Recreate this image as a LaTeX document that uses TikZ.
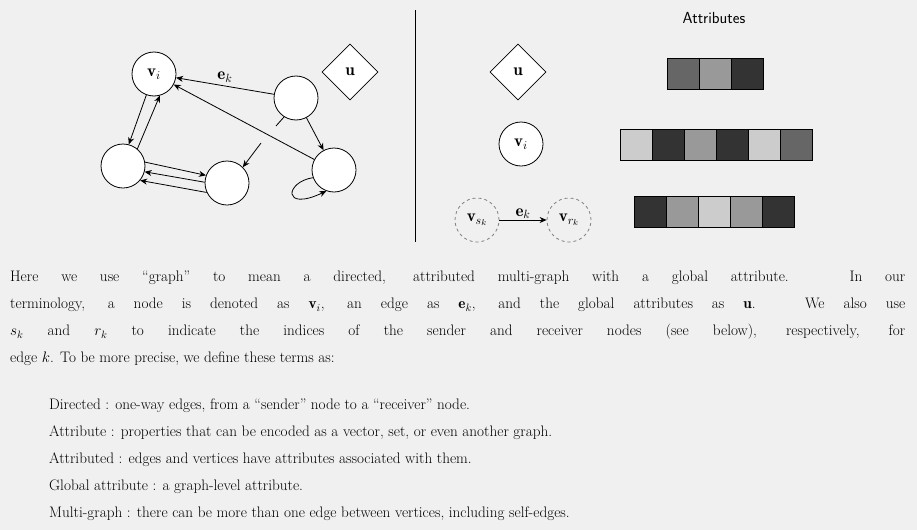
\RequirePackage{fix-cm}
\documentclass[tikz,border=0pt]{standalone}
\usepackage{amsmath,amssymb}
\usepackage{fontspec}
\usepackage{tikz}
\usetikzlibrary{arrows.meta,positioning,shapes.geometric}

\begin{document}
\begin{tikzpicture}[x=1pt,y=-1pt,
  vert/.style={circle, draw, thick, fill=white, minimum size=44pt, inner sep=0pt, font=\fontsize{17}{17}\selectfont},
  glob/.style={diamond, draw, thick, fill=white, minimum size=56pt, inner sep=0pt, font=\fontsize{17}{17}\selectfont},
  ghost/.style={circle, draw=gray, dashed, thick, minimum size=44pt, inner sep=0pt, font=\fontsize{17}{17}\selectfont},
  arr/.style={-{Stealth[length=7pt,width=6pt]}, thick},
  cell/.style={draw, thick, minimum width=32pt, minimum height=31pt, inner sep=0pt},
  txt/.style={anchor=north west, inner sep=0pt, font=\fontsize{15.2}{27}\selectfont},
]
  \fill[gray!12] (0,0) rectangle (917,530);
  \useasboundingbox (0,0) rectangle (917,530);
  % left: example graph
  \node[vert] (vi) at (154,74) {$\mathbf{v}_i$};
  \node[vert] (va) at (296,98) {};
  \node[vert] (vb) at (123,166) {};
  \node[vert] (vc) at (227,183) {};
  \node[vert] (vd) at (334,170) {};
  \node[glob] (u) at (350,72) {$\mathbf{u}$};
  \draw[arr] (va) -- node[above, font=\fontsize{17}{17}\selectfont] {$\mathbf{e}_k$} (vi);
  \draw[arr] (vd) -- (vi);
  \draw[arr] (va) -- (vd);
  \draw[arr] (vi.250) -- (vb.75);
  \draw[arr] (vb.50) -- (vi.285);
  \draw[arr] (vb.10) -- (vc.160);
  \draw[arr] (vc.178) -- (vb.-15);
  \draw[arr] (vc.205) -- (vb.-40);
  \draw[arr] (vd.200) .. controls (285,182) and (282,212) .. (vd.250);
  \coordinate (ca) at (276,126);
  \coordinate (cb) at (284,117);
  \coordinate (cc) at (261,143);
  \draw[thick] (ca) -- (cb);
  \draw[arr] (cc) -- (vc.north east);
  % divider
  \draw[thick] (415,10) coordinate (d1) -- (415,242) coordinate (d2);
  % right: attributes
  \node[font=\sffamily\fontsize{16}{16}\selectfont] (title) at (714,18) {Attributes};
  \node[glob] (ug) at (518,72) {$\mathbf{u}$};
  \node[vert] (vg) at (521,144) {$\mathbf{v}_i$};
  \node[ghost] (vs) at (477,220) {$\mathbf{v}_{s_k}$};
  \node[ghost] (vr) at (569,220) {$\mathbf{v}_{r_k}$};
  \draw[arr] (vs) -- node[above, font=\fontsize{17}{17}\selectfont, inner sep=1pt] {$\mathbf{e}_k$} (vr);
  \foreach \g [count=\i] in {60,40,80}
    \node[cell, fill=black!\g] (ua\i) at (667+32*\i-16,74) {};
  \foreach \g [count=\i] in {20,80,40,80,20,60}
    \node[cell, fill=black!\g] (va\i) at (620+32*\i-16,145) {};
  \foreach \g [count=\i] in {80,40,20,40,80}
    \node[cell, fill=black!\g] (ea\i) at (634+32*\i-16,212) {};
  % text
  \node[txt, text width=895pt, align=justify] (para) at (10,271)
    {Here we use ``graph'' to mean a directed, attributed multi-graph with a global attribute. In our\linebreak
     terminology, a node is denoted as $\mathbf{v}_i$, an edge as $\mathbf{e}_k$, and the global attributes as $\mathbf{u}$. We also use\linebreak
     $s_k$ and $r_k$ to indicate the indices of the sender and receiver nodes (see below), respectively, for\linebreak
     edge $k$. To be more precise, we define these terms as:};
  \node[txt, align=left] (defs) at (49,399)
    {Directed : one-way edges, from a ``sender'' node to a ``receiver'' node.\\
     Attribute : properties that can be encoded as a vector, set, or even another graph.\\
     Attributed : edges and vertices have attributes associated with them.\\
     Global attribute : a graph-level attribute.\\
     Multi-graph : there can be more than one edge between vertices, including self-edges.};
\end{tikzpicture}
\end{document}
